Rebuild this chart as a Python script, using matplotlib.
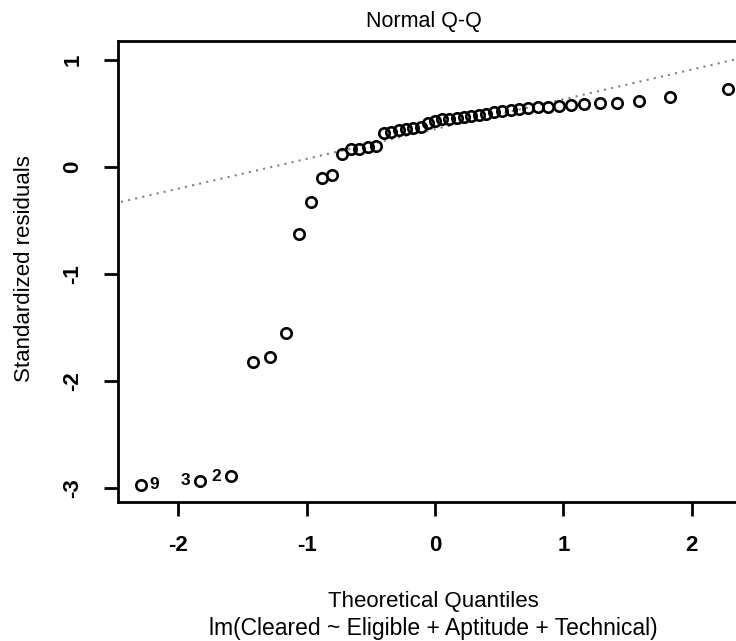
#!/usr/bin/env python3
"""Normal Q-Q plot of standardized residuals for the Cleared regression model."""

import matplotlib

matplotlib.use("Agg")
import matplotlib.pyplot as plt
import numpy as np

# theoretical normal quantiles (x) and sorted standardized residuals (y), n = 45
theoretical = [
    -2.287, -1.834, -1.593, -1.420, -1.282, -1.164, -1.060, -0.967, -0.882,
    -0.803, -0.728, -0.657, -0.589, -0.524, -0.461, -0.400, -0.341, -0.282,
    -0.224, -0.168, -0.112, -0.056, 0.000, 0.056, 0.112, 0.168, 0.224,
    0.282, 0.341, 0.400, 0.461, 0.524, 0.589, 0.657, 0.728, 0.803,
    0.882, 0.967, 1.060, 1.164, 1.282, 1.420, 1.593, 1.834, 2.287,
]
residuals = [
    -2.97, -2.93, -2.89, -1.82, -1.78, -1.555, -0.63, -0.33, -0.10,
    -0.075, 0.12, 0.165, 0.165, 0.19, 0.195, 0.315, 0.33, 0.34,
    0.355, 0.365, 0.375, 0.405, 0.43, 0.445, 0.45, 0.455, 0.465,
    0.475, 0.485, 0.495, 0.515, 0.52, 0.53, 0.54, 0.55, 0.555,
    0.56, 0.57, 0.575, 0.585, 0.595, 0.60, 0.615, 0.655, 0.73,
]
# observation numbers of the three largest residuals, keyed by sorted position
outlier_labels = {0: "9", 1: "3", 2: "2"}

x_ticks = [-2, -1, 0, 1, 2]
y_ticks = [-3, -2, -1, 0, 1]

plt.rcParams["font.family"] = ["Liberation Sans", "DejaVu Sans"]

x = np.asarray(theoretical)
y = np.asarray(residuals)

fig = plt.figure(figsize=(7.36, 6.41), dpi=100)
# the plotting box runs past the right edge of the figure
ax = fig.add_axes([0.1603, 0.2168, 0.8614, 0.7192])

# qqline through the first and third quartiles
q_sample = np.percentile(y, [25, 75])
q_theory = np.array([-0.6745, 0.6745])
slope = (q_sample[1] - q_sample[0]) / (q_theory[1] - q_theory[0])
intercept = q_sample[0] - slope * q_theory[0]
line_x = np.array([-3.0, 3.0])
ax.plot(line_x, intercept + slope * line_x, color="0.5",
        linestyle=(0, (1, 2.5)), linewidth=1.5, zorder=1)

ax.plot(x, y, linestyle="none", marker="o", markersize=7.5,
        markerfacecolor="none", markeredgecolor="black",
        markeredgewidth=1.9, zorder=2)

for idx, text in outlier_labels.items():
    dx = 9 if idx == 0 else -10
    ax.annotate(text, (x[idx], y[idx]), xytext=(dx, 0),
                textcoords="offset points", ha="center", va="center",
                fontsize=12.5, fontweight="bold")

ax.set_xlim(-2.47, 2.47)
ax.set_ylim(-3.13, 1.175)
ax.set_xticks(x_ticks)
ax.set_yticks(y_ticks)
ax.set_xticklabels([str(t) for t in x_ticks], fontsize=16, fontweight="bold")
ax.set_yticklabels([str(t) for t in y_ticks], fontsize=16, fontweight="bold",
                   rotation=90, va="center")
ax.tick_params(axis="both", direction="out", length=10, width=2)
ax.tick_params(axis="x", pad=14)
ax.tick_params(axis="y", pad=15)
for spine in ax.spines.values():
    spine.set_linewidth(2)

fig.text(0.5765, 1 - 21 / 641, "Normal Q-Q", ha="center", va="center",
         fontsize=15.5)
fig.text(25 / 736, 1 - 269 / 641, "Standardized residuals", ha="center",
         va="center", rotation=90, fontsize=16)
fig.text(0.5885, 1 - 602 / 641, "Theoretical Quantiles", ha="center",
         va="center", fontsize=16)
fig.text(0.5885, 1 - 628 / 641,
         "lm(Cleared ~ Eligible + Aptitude + Technical)", ha="center",
         va="center", fontsize=16.5)

fig.savefig("out.png", dpi=100)
plt.close(fig)
